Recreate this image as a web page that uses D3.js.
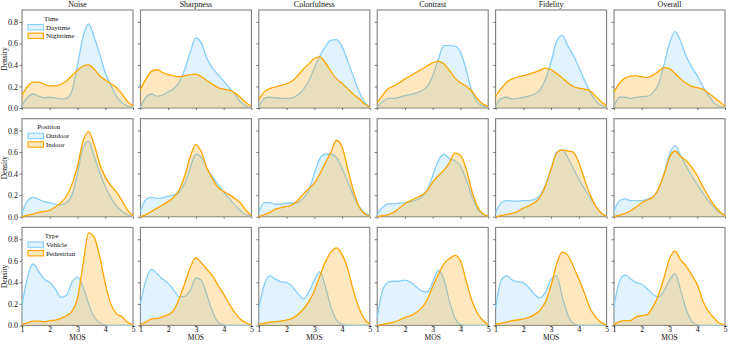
<!DOCTYPE html>
<html>
<head>
<meta charset="utf-8">
<script src="https://cdn.jsdelivr.net/npm/d3@7"></script>
<style>
  body { margin: 0; background: #fff; }
  text { font-family: "Liberation Serif", "Times New Roman", serif; fill: #111; }
</style>
</head>
<body>
<div id="chart"></div>
<script>
// MOS grid the densities are read at
var mos = [1.0, 1.2, 1.4, 1.6, 1.8, 2.0, 2.2, 2.4, 2.6, 2.8, 3.0, 3.2, 3.4, 3.6, 3.8, 4.0, 4.2, 4.4, 4.6, 4.8, 5.0];
var metrics = ["Noise", "Sharpness", "Colorfulness", "Contrast", "Fidelity", "Overall"];
var legendTitles = ["Time", "Position", "Type"];
var firstLabels = ["Daytime", "Outdoor", "Vehicle"];
var secondLabels = ["Nighttime", "Indoor", "Pedestrian"];
var xTicks = [1, 2, 3, 4, 5];
var yTicks = [0, 0.2, 0.4, 0.6, 0.8];

// one array per metric, same order as metrics
var daytime = [
  [0.02,0.1,0.13,0.11,0.095,0.1,0.095,0.085,0.09,0.16,0.4,0.66,0.78,0.66,0.5,0.33,0.21,0.11,0.05,0.02,0.005],
  [0.01,0.1,0.13,0.11,0.12,0.15,0.18,0.24,0.36,0.52,0.65,0.6,0.46,0.37,0.31,0.25,0.19,0.13,0.06,0.02,0.0],
  [0.01,0.09,0.1,0.095,0.09,0.09,0.095,0.12,0.17,0.25,0.37,0.48,0.57,0.63,0.635,0.57,0.44,0.3,0.16,0.06,0.01],
  [0.01,0.06,0.09,0.09,0.1,0.115,0.125,0.14,0.16,0.2,0.3,0.45,0.58,0.58,0.575,0.52,0.36,0.16,0.06,0.02,0.01],
  [0.015,0.09,0.1,0.085,0.09,0.1,0.11,0.13,0.17,0.27,0.43,0.62,0.675,0.58,0.49,0.38,0.26,0.15,0.07,0.025,0.01],
  [0.015,0.1,0.1,0.09,0.1,0.105,0.11,0.14,0.22,0.4,0.6,0.71,0.62,0.48,0.38,0.3,0.2,0.12,0.05,0.015,0.005]
];
var nighttime = [
  [0.12,0.2,0.24,0.24,0.22,0.205,0.205,0.22,0.25,0.3,0.35,0.39,0.4,0.36,0.3,0.26,0.225,0.19,0.13,0.06,0.02],
  [0.17,0.27,0.34,0.355,0.33,0.31,0.3,0.29,0.3,0.31,0.315,0.29,0.255,0.22,0.19,0.175,0.165,0.14,0.1,0.05,0.015],
  [0.08,0.15,0.18,0.195,0.21,0.225,0.25,0.3,0.36,0.41,0.46,0.475,0.42,0.34,0.27,0.23,0.18,0.13,0.09,0.04,0.01],
  [0.05,0.12,0.18,0.205,0.235,0.27,0.3,0.33,0.36,0.39,0.42,0.435,0.41,0.35,0.28,0.235,0.205,0.16,0.09,0.04,0.015],
  [0.11,0.18,0.24,0.27,0.29,0.3,0.315,0.33,0.35,0.37,0.355,0.32,0.28,0.235,0.2,0.185,0.175,0.16,0.11,0.06,0.02],
  [0.15,0.23,0.28,0.295,0.3,0.29,0.285,0.305,0.34,0.375,0.365,0.32,0.27,0.23,0.2,0.19,0.175,0.14,0.1,0.06,0.015]
];
var outdoor = [
  [0.03,0.15,0.18,0.16,0.14,0.13,0.115,0.11,0.13,0.2,0.4,0.64,0.7,0.56,0.41,0.28,0.18,0.1,0.05,0.02,0.005],
  [0.05,0.16,0.18,0.17,0.175,0.19,0.2,0.23,0.31,0.46,0.58,0.55,0.45,0.37,0.3,0.23,0.17,0.11,0.06,0.02,0.005],
  [0.04,0.13,0.13,0.115,0.12,0.125,0.125,0.13,0.17,0.24,0.4,0.54,0.58,0.58,0.55,0.45,0.33,0.2,0.1,0.04,0.01],
  [0.02,0.09,0.12,0.12,0.125,0.13,0.14,0.155,0.18,0.25,0.38,0.52,0.58,0.54,0.52,0.47,0.35,0.2,0.08,0.025,0.005],
  [0.04,0.13,0.15,0.145,0.145,0.15,0.15,0.16,0.2,0.3,0.45,0.6,0.62,0.55,0.45,0.35,0.26,0.18,0.1,0.035,0.005],
  [0.05,0.15,0.165,0.15,0.15,0.15,0.16,0.185,0.25,0.4,0.58,0.66,0.57,0.47,0.38,0.3,0.22,0.15,0.09,0.04,0.01]
];
var indoor = [
  [0.0,0.015,0.025,0.04,0.05,0.06,0.09,0.13,0.19,0.3,0.47,0.7,0.79,0.67,0.49,0.37,0.29,0.23,0.15,0.06,0.01],
  [0.0,0.02,0.05,0.08,0.11,0.14,0.18,0.25,0.38,0.56,0.67,0.6,0.45,0.35,0.27,0.235,0.205,0.17,0.13,0.06,0.01],
  [0.0,0.02,0.04,0.07,0.085,0.095,0.11,0.15,0.21,0.26,0.31,0.4,0.5,0.6,0.71,0.65,0.45,0.25,0.1,0.03,0.005],
  [0.0,0.01,0.02,0.04,0.08,0.12,0.15,0.175,0.2,0.24,0.32,0.38,0.43,0.5,0.59,0.57,0.45,0.25,0.1,0.03,0.005],
  [0.0,0.01,0.02,0.03,0.05,0.08,0.1,0.13,0.18,0.29,0.44,0.59,0.62,0.61,0.6,0.5,0.35,0.21,0.1,0.035,0.005],
  [0.0,0.015,0.03,0.055,0.09,0.13,0.155,0.18,0.26,0.39,0.55,0.61,0.56,0.52,0.46,0.38,0.28,0.19,0.11,0.05,0.01]
];
var vehicle = [
  [0.18,0.45,0.57,0.5,0.43,0.4,0.34,0.26,0.28,0.4,0.45,0.36,0.2,0.08,0.025,0.005,0,0,0,0,0],
  [0.2,0.42,0.52,0.48,0.43,0.39,0.33,0.265,0.27,0.33,0.44,0.42,0.28,0.13,0.03,0.005,0,0,0,0,0],
  [0.16,0.38,0.46,0.43,0.405,0.4,0.36,0.3,0.245,0.31,0.42,0.5,0.36,0.17,0.05,0.01,0,0,0,0,0],
  [0.07,0.33,0.4,0.41,0.41,0.42,0.4,0.36,0.32,0.31,0.4,0.51,0.43,0.23,0.07,0.01,0,0,0,0,0],
  [0.16,0.42,0.46,0.42,0.405,0.395,0.35,0.29,0.255,0.31,0.43,0.46,0.27,0.1,0.02,0.0,0,0,0,0,0],
  [0.18,0.41,0.47,0.43,0.4,0.38,0.34,0.29,0.265,0.32,0.42,0.48,0.33,0.15,0.04,0.005,0,0,0,0,0]
];
var pedestrian = [
  [0.01,0.025,0.04,0.04,0.035,0.045,0.05,0.065,0.09,0.13,0.25,0.57,0.86,0.82,0.64,0.39,0.2,0.11,0.08,0.03,0.005],
  [0.01,0.03,0.06,0.065,0.08,0.1,0.14,0.25,0.39,0.54,0.63,0.58,0.52,0.46,0.37,0.29,0.2,0.12,0.06,0.025,0.005],
  [0.01,0.02,0.03,0.035,0.04,0.05,0.065,0.1,0.15,0.22,0.32,0.46,0.59,0.68,0.72,0.66,0.53,0.33,0.17,0.06,0.01],
  [0.0,0.01,0.02,0.03,0.05,0.075,0.09,0.12,0.16,0.24,0.36,0.47,0.57,0.62,0.65,0.6,0.42,0.24,0.12,0.05,0.005],
  [0.01,0.02,0.03,0.045,0.05,0.06,0.075,0.1,0.14,0.22,0.37,0.57,0.68,0.65,0.55,0.43,0.3,0.16,0.08,0.03,0.005],
  [0.01,0.035,0.045,0.045,0.08,0.09,0.1,0.17,0.28,0.44,0.62,0.69,0.61,0.55,0.47,0.38,0.23,0.13,0.07,0.02,0.005]
];

var rows = [
  {title: legendTitles[0], names: [firstLabels[0], secondLabels[0]], series: [daytime, nighttime]},
  {title: legendTitles[1], names: [firstLabels[1], secondLabels[1]], series: [outdoor, indoor]},
  {title: legendTitles[2], names: [firstLabels[2], secondLabels[2]], series: [vehicle, pedestrian]}
];
var colors = ["#87CEFA", "#FFA500"];

var width = 730, height = 345;
var left0 = 22, top0 = 10;
var colPitch = 118.4, rowPitch = 108.7;
var panelW = 111, panelH = 98;

var svg = d3.select("#chart").append("svg")
    .attr("width", width)
    .attr("height", height);

var x = d3.scaleLinear().domain([1, 5]).range([0, panelW]);
var y = d3.scaleLinear().domain([0, 0.91]).range([panelH, 0]);

var area = d3.area()
    .x(function (d, i) { return x(mos[i]); })
    .y0(y(0))
    .y1(function (d) { return y(d); })
    .curve(d3.curveMonotoneX);
var line = d3.line()
    .x(function (d, i) { return x(mos[i]); })
    .y(function (d) { return y(d); })
    .curve(d3.curveMonotoneX);

rows.forEach(function (row, r) {
  metrics.forEach(function (metric, c) {
    var g = svg.append("g")
        .attr("transform", "translate(" + (left0 + c * colPitch) + "," + (top0 + r * rowPitch) + ")");

    // frame
    g.append("rect")
        .attr("width", panelW).attr("height", panelH)
        .attr("fill", "none").attr("stroke", "#808080").attr("stroke-width", 1.1);

    // axes: tick marks everywhere, labels only on the outer panels
    var ya = g.append("g").call(d3.axisLeft(y).tickValues(yTicks).tickSize(2.5).tickPadding(1.5)
        .tickFormat(c === 0 ? d3.format(".1f") : ""));
    var xa = g.append("g").attr("transform", "translate(0," + panelH + ")")
        .call(d3.axisBottom(x).tickValues(xTicks).tickSize(2).tickPadding(0.5)
        .tickFormat(r === rows.length - 1 ? d3.format("d") : ""));
    [ya, xa].forEach(function (a) {
      a.select(".domain").remove();
      a.selectAll("line").attr("stroke", "#555").attr("stroke-width", 0.8);
      a.selectAll("text").style("font-size", "8px")
          .style("font-family", '"Liberation Serif", "Times New Roman", serif').attr("fill", "#111");
    });
    xa.selectAll("text").attr("dy", "0.55em");

    // density curves, first group under second
    row.series.forEach(function (s, k) {
      g.append("path").datum(s[c])
          .attr("d", area)
          .attr("fill", colors[k]).attr("fill-opacity", 0.25);
      g.append("path").datum(s[c])
          .attr("d", line)
          .attr("fill", "none").attr("stroke", colors[k]).attr("stroke-width", 1.3);
    });

    if (r === 0) {
      g.append("text").attr("x", panelW / 2).attr("y", -3)
          .attr("text-anchor", "middle").style("font-size", "8px").text(metric);
    }
    if (r === rows.length - 1) {
      g.append("text").attr("x", panelW / 2).attr("y", panelH + 15)
          .attr("text-anchor", "middle").style("font-size", "7.5px").text("MOS");
    }
    if (c === 0) {
      g.append("text")
          .attr("transform", "translate(-15.5," + (panelH / 2) + ")rotate(-90)")
          .attr("text-anchor", "middle").style("font-size", "7.5px").text("Density");

      // legend
      var lg = g.append("g").attr("transform", "translate(6,0)");
      var maxW = 0;
      row.names.forEach(function (name, k) {
        var yy = 15 + k * 8.6;
        lg.append("rect").attr("x", 0).attr("y", yy - 0.5).attr("width", 15.5).attr("height", 5.4)
            .attr("fill", colors[k]).attr("fill-opacity", 0.25)
            .attr("stroke", colors[k]).attr("stroke-width", 1.1);
        var t = lg.append("text").attr("x", 18).attr("y", yy + 4.8)
            .style("font-size", "7px").text(name);
        maxW = Math.max(maxW, 18 + t.node().getComputedTextLength());
      });
      lg.append("text").attr("x", maxW / 2).attr("y", 10.5)
          .attr("text-anchor", "middle").style("font-size", "7px").text(row.title);
    }
  });
});
</script>
</body>
</html>
